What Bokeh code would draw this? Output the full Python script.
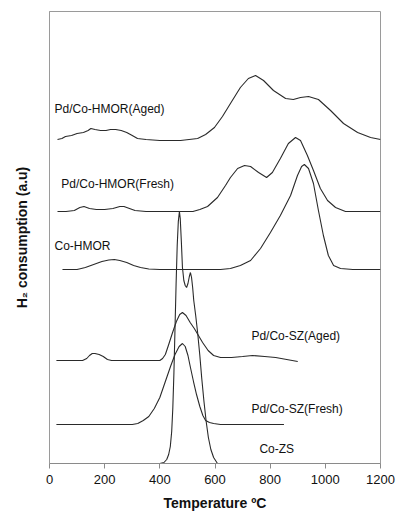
from bokeh.plotting import figure
from bokeh.models import Range1d, Label, FixedTicker
from bokeh.embed import file_html
from bokeh.resources import INLINE

# ---------------- data (temperature ºC, H2 signal a.u. incl. vertical offset) -------------
co_zs_t = [400, 415, 425, 432, 438, 443, 447, 451, 455, 459, 463, 467, 471, 474, 478, 482, 487, 492, 497,
           502, 507, 511, 515, 519, 523, 530, 537, 545, 552, 560, 568, 576, 585, 595, 609, 700, 850]
co_zs_s = [0, 1, 4, 9, 17, 32, 55, 90, 135, 180, 218, 242, 252, 245, 222, 196, 183, 178, 176,
           180, 187, 191, 186, 176, 163, 148, 131, 108, 85, 62, 42, 26, 14, 6, 0, 0, 0]

sz_fresh_t = [25, 100, 200, 300, 320, 340, 360, 380, 400, 420, 440, 455, 470, 482, 492, 502, 511,
              522, 533, 545, 556, 566, 580, 595, 620, 700, 850]
sz_fresh_s = [39, 39, 39, 39, 40, 43, 47, 55, 66, 82, 98, 109, 117, 120, 117, 108, 96,
              82, 69, 57, 48, 43, 41, 40, 39, 39, 39]

sz_aged_t = [25, 100, 120, 135, 145, 155, 165, 180, 195, 210, 225, 300, 400, 410, 420, 431, 445, 460,
             472, 482, 495, 510, 525, 540, 555, 575, 595, 620, 660, 700, 736, 780, 820, 860, 900]
sz_aged_s = [103, 103, 103, 105, 108, 110, 110, 109, 107, 104, 103, 103, 103, 105, 109, 118, 130, 142,
             149, 151, 148, 141, 135, 128, 121, 113, 108, 106, 106, 107, 108, 107, 106, 104, 102]

co_hmor_t = [47, 100, 130, 160, 190, 215, 235, 255, 280, 305, 330, 360, 400, 500, 620, 656, 692, 729,
             765, 801, 837, 874, 899, 914, 924, 939, 957, 975, 993, 1011, 1030, 1055, 1100, 1200]
co_hmor_s = [194, 194, 196, 199, 202, 203.5, 204, 203, 201, 198, 196, 194.5, 194, 194, 194, 195, 198, 203,
             215, 231, 248, 268, 288, 297, 299, 295, 280, 253, 228, 208, 198, 195, 194, 194]

hmor_fresh_t = [29, 60, 90, 110, 125, 145, 170, 200, 230, 255, 270, 290, 310, 350, 420, 493, 520, 545,
                573, 609, 638, 656, 682, 707, 729, 758, 787, 808, 837, 866, 892, 910, 935, 957, 982,
                1008, 1037, 1073, 1120, 1200]
hmor_fresh_s = [252, 252, 253, 256, 257, 255, 254, 254, 255, 257, 257, 255, 253, 252, 252, 252, 252, 254,
                257, 266, 278, 286, 295, 298, 297, 291, 286, 291, 305, 320, 326, 323, 308, 293, 275,
                263, 256, 252, 252, 252]

hmor_aged_t = [29, 45, 58, 80, 100, 123, 140, 150, 165, 185, 205, 221, 240, 260, 280, 300, 319, 350,
               400, 475, 537, 566, 598, 627, 656, 692, 721, 747, 776, 812, 856, 884, 910, 939, 975,
               1019, 1066, 1117, 1164, 1200]
hmor_aged_s = [324, 325, 327, 328, 330, 331, 333, 335, 334, 333, 333, 334, 334, 333, 331, 328, 325, 324,
               323, 323, 325, 329, 336, 347, 360, 376, 385, 388, 383, 373, 365, 364, 366, 367, 364,
               353, 340, 331, 326, 324]

series = [
    (co_zs_t, co_zs_s),
    (sz_fresh_t, sz_fresh_s),
    (sz_aged_t, sz_aged_s),
    (co_hmor_t, co_hmor_s),
    (hmor_fresh_t, hmor_fresh_s),
    (hmor_aged_t, hmor_aged_s),
]

labels = ["Pd/Co-HMOR(Aged)", "Pd/Co-HMOR(Fresh)", "Co-HMOR",
          "Pd/Co-SZ(Aged)", "Pd/Co-SZ(Fresh)", "Co-ZS"]
label_x = [18, 43, 18, 732, 732, 761]
label_y = [355, 280, 218, 128, 55, 15]

x_ticks = [0, 200, 400, 600, 800, 1000, 1200]

# ---------------- figure ----------------
FONT = "Liberation Sans"
p = figure(width=397, height=515, output_backend="svg", toolbar_location=None,
           x_range=Range1d(0, 1200), y_range=Range1d(0, 452),
           min_border_left=49, min_border_right=17, min_border_top=11, min_border_bottom=52)
p.background_fill_color = "white"
p.border_fill_color = "white"
p.outline_line_color = "#9a9a9a"
p.outline_line_width = 1
p.xgrid.visible = False
p.ygrid.visible = False

for t, s in series:
    p.line(t, s, line_color="#2a2a2a", line_width=1.1)

for txt, lx, ly in zip(labels, label_x, label_y):
    p.add_layout(Label(x=lx, y=ly, text=txt, text_font=FONT, text_font_size="12px",
                       text_color="#111111", text_baseline="middle", text_align="left"))

xa = p.xaxis[0]
xa.ticker = FixedTicker(ticks=x_ticks)
xa.minor_tick_line_color = None
xa.major_tick_in = 0
xa.major_tick_out = 5
xa.major_tick_line_color = "#8a8a8a"
xa.axis_line_color = "#8a8a8a"
xa.major_label_text_font = FONT
xa.major_label_text_font_size = "13px"
xa.major_label_text_color = "#111111"
xa.major_label_standoff = 6
xa.axis_label = "Temperature ºC"
xa.axis_label_text_font = FONT
xa.axis_label_text_font_size = "14px"
xa.axis_label_text_font_style = "bold"
xa.axis_label_text_color = "#111111"
xa.axis_label_standoff = 8

ya = p.yaxis[0]
ya.ticker = FixedTicker(ticks=[])
ya.minor_tick_line_color = None
ya.major_tick_in = 0
ya.major_tick_out = 0
ya.major_label_standoff = 0
ya.axis_line_color = "#9a9a9a"
ya.axis_label = "H₂ consumption (a.u)"
ya.axis_label_text_font = FONT
ya.axis_label_text_font_size = "14px"
ya.axis_label_text_font_style = "bold"
ya.axis_label_text_color = "#111111"
ya.axis_label_standoff = 20

open("out.html", "w").write(file_html(p, INLINE))
